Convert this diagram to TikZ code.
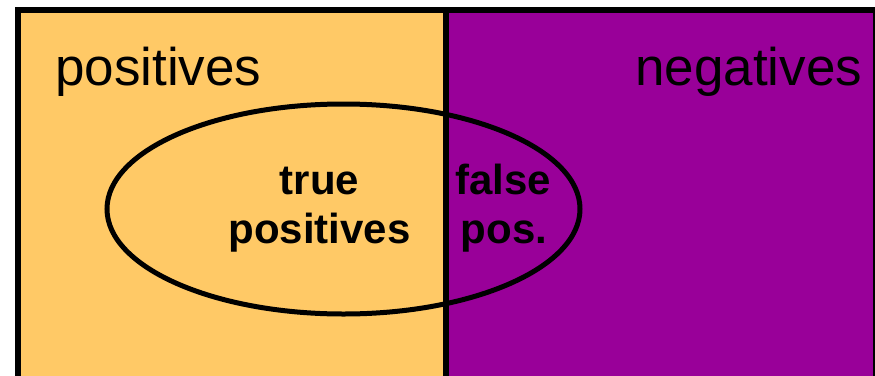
\documentclass[tikz,border=0pt]{standalone}
\usepackage{fontspec}
\setmainfont{Liberation Sans}
\definecolor{posfill}{RGB}{255,201,102}
\definecolor{negfill}{RGB}{153,0,153}
\begin{document}
\begin{tikzpicture}[x=1pt,y=-1pt,
  biglabel/.style={inner sep=0pt,anchor=base west,font=\fontsize{53}{60}\selectfont},
  boldlabel/.style={inner sep=0pt,anchor=base,font=\fontsize{42}{49}\selectfont\bfseries}]
\useasboundingbox (0,0) rectangle (875,375);
\begin{scope}
\clip (0,0) rectangle (875,375);
\fill[posfill] (18,10) rectangle (446,400);
\fill[negfill] (446,10) rectangle (876,400);
\draw[line width=5pt] (343.5,209) ellipse [x radius=236.5, y radius=105];
\draw[line width=6pt] (446,10) -- (446,400);
\draw[line width=6pt] (18,400) -- (18,10) -- (876,10) -- (876,400);
\end{scope}
\node[biglabel] (pos) at (55,85) {positives};
\node[biglabel] (neg) at (635,85) {negatives};
\node[boldlabel] (tpa) at (319.5,194) {true};
\node[boldlabel] (tpb) at (319.5,243) {positives};
\node[boldlabel] (fpa) at (503,194) {false};
\node[boldlabel] (fpb) at (504,243) {pos.};
\end{tikzpicture}
\end{document}
